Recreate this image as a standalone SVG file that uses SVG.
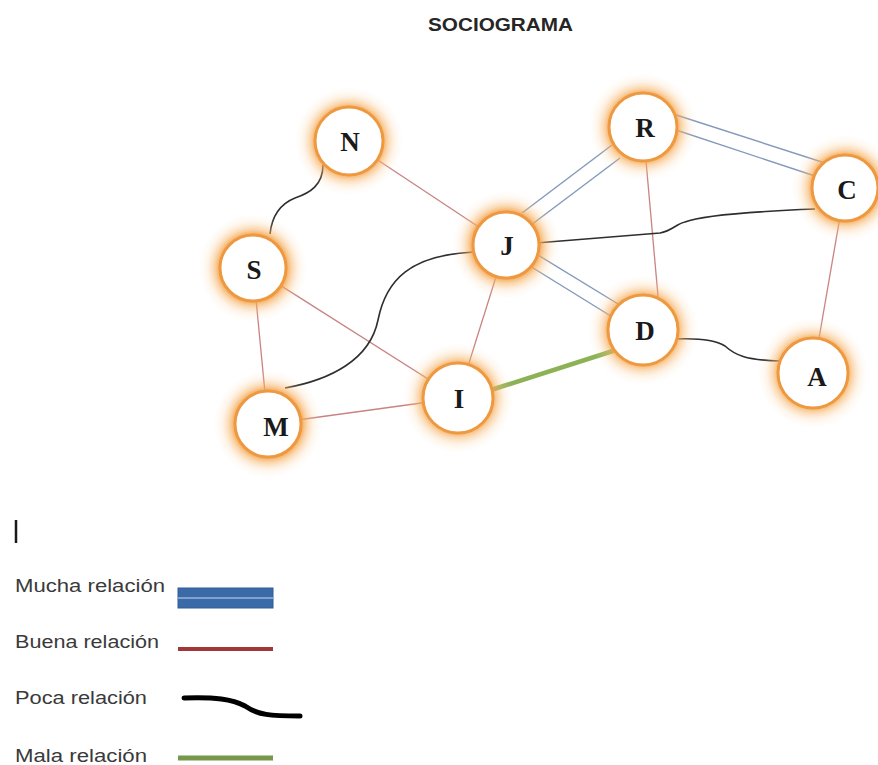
<svg xmlns="http://www.w3.org/2000/svg" width="878" height="765" viewBox="0 0 878 765">
<style>
.title{font-family:"Liberation Sans",Arial,sans-serif;font-weight:bold;font-size:18.5px;fill:#262626}
.lbl{font-family:"Liberation Serif","Times New Roman",serif;font-weight:bold;font-size:27px;fill:#1a1a1a;text-anchor:middle;dominant-baseline:central}
.leg{font-family:"Liberation Sans",Arial,sans-serif;font-size:17.5px;fill:#3a3a3a}
.good{stroke:#c98383;stroke-width:1.3;fill:none}
.much{stroke:#8299bb;stroke-width:1.4;fill:none}
.few{stroke:#2e2e2e;stroke-width:1.6;fill:none}
.bad{stroke:#8db255;stroke-width:4.5;fill:none;stroke-linecap:round}
.glow{fill:url(#g)}
.ring{fill:#ffffff;stroke:#ee9840;stroke-width:3}
</style>
<defs>
<radialGradient id="g">
<stop offset="0" stop-color="#f4a248" stop-opacity="0.9"/>
<stop offset="0.62" stop-color="#f4a248" stop-opacity="0.9"/>
<stop offset="0.72" stop-color="#f6b060" stop-opacity="0.5"/>
<stop offset="0.85" stop-color="#f9c88e" stop-opacity="0.18"/>
<stop offset="1" stop-color="#fcdcb8" stop-opacity="0"/>
</radialGradient>
</defs>
<rect width="878" height="765" fill="#ffffff"/>
<text class="title" x="428" y="31" textLength="145" lengthAdjust="spacingAndGlyphs">SOCIOGRAMA</text>

<g id="connectors">
<!-- buena relacion -->
<line class="good" x1="349" y1="141" x2="506" y2="245"/>
<line class="good" x1="253" y1="268" x2="458" y2="398"/>
<line class="good" x1="253" y1="268" x2="268" y2="424"/>
<line class="good" x1="268" y1="424" x2="458" y2="398"/>
<line class="good" x1="458" y1="398" x2="506" y2="245"/>
<line class="good" x1="643" y1="127" x2="661" y2="330"/>
<line class="good" x1="845" y1="188" x2="813" y2="373"/>
<!-- mucha relacion -->
<line class="much" x1="522" y1="213" x2="612" y2="145"/>
<line class="much" x1="531" y1="225" x2="620" y2="158"/>
<line class="much" x1="533" y1="252" x2="623" y2="307"/>
<line class="much" x1="525" y1="263" x2="614" y2="318"/>
<line class="much" x1="670" y1="113" x2="825" y2="163"/>
<line class="much" x1="670" y1="128" x2="815" y2="176"/>
<!-- poca relacion -->
<path class="few" d="M323,165 C323,185 310,193 295,198 C280,204 272,215 270,234"/>
<path class="few" d="M285,388 C330,380 370,360 378,320 C386,280 410,255 474,252"/>
<path class="few" d="M536,243 L660,233 C672,231 676,224 685,222 C700,216 740,212 815,209"/>
<path class="few" d="M676,339 C700,338 715,340 725,346 C735,355 745,360 780,361"/>
<!-- mala relacion -->
<line class="bad" x1="494" y1="389" x2="616" y2="350"/>
</g>

<g id="node-N"><circle class="glow" cx="349" cy="141" r="54"/><circle class="ring" cx="349" cy="141" r="34"/><text class="lbl" x="350" y="142">N</text></g>
<g id="node-J"><circle class="glow" cx="506" cy="245" r="54"/><circle class="ring" cx="506" cy="245" r="33"/><text class="lbl" x="507" y="246">J</text></g>
<g id="node-R"><circle class="glow" cx="643" cy="127" r="54"/><circle class="ring" cx="643" cy="127" r="34"/><text class="lbl" x="645" y="128">R</text></g>
<g id="node-C"><circle class="glow" cx="845" cy="188" r="53"/><circle class="ring" cx="845" cy="188" r="33"/><text class="lbl" x="847" y="190">C</text></g>
<g id="node-S"><circle class="glow" cx="253" cy="268" r="54"/><circle class="ring" cx="253" cy="268" r="33"/><text class="lbl" x="254" y="270">S</text></g>
<g id="node-M"><circle class="glow" cx="268" cy="424" r="54"/><circle class="ring" cx="268" cy="424" r="33"/><text class="lbl" x="276" y="427">M</text></g>
<g id="node-I"><circle class="glow" cx="458" cy="398" r="55"/><circle class="ring" cx="458" cy="398" r="35"/><text class="lbl" x="459" y="399">I</text></g>
<g id="node-D"><circle class="glow" cx="643" cy="330" r="55"/><circle class="ring" cx="643" cy="330" r="35"/><text class="lbl" x="645" y="331">D</text></g>
<g id="node-A"><circle class="glow" cx="813" cy="373" r="55"/><circle class="ring" cx="813" cy="373" r="35"/><text class="lbl" x="817" y="377">A</text></g>

<g id="legend">
<line x1="16" y1="520" x2="16" y2="543" stroke="#1a1a1a" stroke-width="2.5"/>
<text class="leg" x="15" y="592" textLength="150" lengthAdjust="spacingAndGlyphs">Mucha relación</text>
<rect x="178" y="588" width="95" height="20" fill="#3a6aa8" stroke="#2f5d98" stroke-width="1"/>
<line x1="178" y1="598" x2="273" y2="598" stroke="#9ab6d8" stroke-width="1.5"/>
<text class="leg" x="15" y="648" textLength="144" lengthAdjust="spacingAndGlyphs">Buena relación</text>
<line x1="178" y1="649" x2="273" y2="649" stroke="#a03838" stroke-width="4"/>
<text class="leg" x="15" y="704" textLength="132" lengthAdjust="spacingAndGlyphs">Poca relación</text>
<path d="M184,698 C215,697 232,699 245,706 C258,715 270,716 300,716" fill="none" stroke="#000000" stroke-width="5" stroke-linecap="round"/>
<text class="leg" x="15" y="762" textLength="132" lengthAdjust="spacingAndGlyphs">Mala relación</text>
<line x1="178" y1="758" x2="273" y2="758" stroke="#76984a" stroke-width="5"/>
</g>
</svg>
